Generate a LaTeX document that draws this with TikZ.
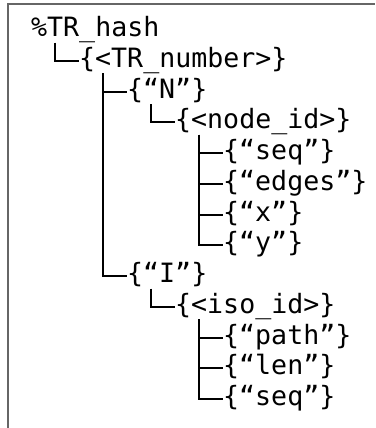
\documentclass[tikz,border=0pt]{standalone}
\usepackage{fontspec}
\setmonofont{DejaVu Sans Mono}
\newcommand\us{\char95\relax}
\begin{document}
\begin{tikzpicture}[x=1pt,y=1pt,key/.style={anchor=base west,inner sep=0pt,font=\ttfamily\fontsize{26.6}{30.75}\selectfont,text height=18.6pt,text depth=6pt},branch/.style={line width=2pt}]
\def\dx{16};
\def\dy{-30.75};
\def\ox{31};
\def\oy{-36.5};

\useasboundingbox (0,0) rectangle (375,-428);
\draw[line width=2.2pt,gray!80!black] (8,-428) -- (8,-4) -- (375,-4);

\node[key] (H) at (\ox,\oy) {\%TR\us{}hash};

\node[key] (T) at (\ox+3*\dx,\oy+\dy) {\{<TR\us{}number>\}};
\draw[branch] ([xshift=1.5*\dx]H.south west) |- (T.west);

\node[key] (N) at (\ox+6*\dx,\oy+2*\dy) {\{“N”\}};
\draw[branch] ([xshift=1.5*\dx]T.south west) |- (N.west);
\node[key] (I) at (\ox+6*\dx,\oy+8*\dy) {\{“I”\}};
\draw[branch] ([xshift=1.5*\dx]T.south west) |- (I.west);

\node[key] (ND) at (\ox+9*\dx,\oy+3*\dy) {\{<node\us{}id>\}};
\draw[branch] ([xshift=1.5*\dx]N.south west) |- (ND.west);

\node[key] (NS) at (\ox+12*\dx,\oy+4*\dy) {\{“seq”\}};
\draw[branch] ([xshift=1.5*\dx]ND.south west) |- (NS.west);
\node[key] (NE) at (\ox+12*\dx,\oy+5*\dy) {\{“edges”\}};
\draw[branch] ([xshift=1.5*\dx]ND.south west) |- (NE.west);
\node[key] (NX) at (\ox+12*\dx,\oy+6*\dy) {\{“x”\}};
\draw[branch] ([xshift=1.5*\dx]ND.south west) |- (NX.west);
\node[key] (NY) at (\ox+12*\dx,\oy+7*\dy) {\{“y”\}};
\draw[branch] ([xshift=1.5*\dx]ND.south west) |- (NY.west);

\node[key] (ID) at (\ox+9*\dx,\oy+9*\dy) {\{<iso\us{}id>\}};
\draw[branch] ([xshift=1.5*\dx]I.south west) |- (ID.west);

\node[key] (IP) at (\ox+12*\dx,\oy+10*\dy) {\{“path”\}};
\draw[branch] ([xshift=1.5*\dx]ID.south west) |- (IP.west);
\node[key] (IL) at (\ox+12*\dx,\oy+11*\dy) {\{“len”\}};
\draw[branch] ([xshift=1.5*\dx]ID.south west) |- (IL.west);
\node[key] (IS) at (\ox+12*\dx,\oy+12*\dy) {\{“seq”\}};
\draw[branch] ([xshift=1.5*\dx]ID.south west) |- (IS.west);
\end{tikzpicture}
\end{document}
